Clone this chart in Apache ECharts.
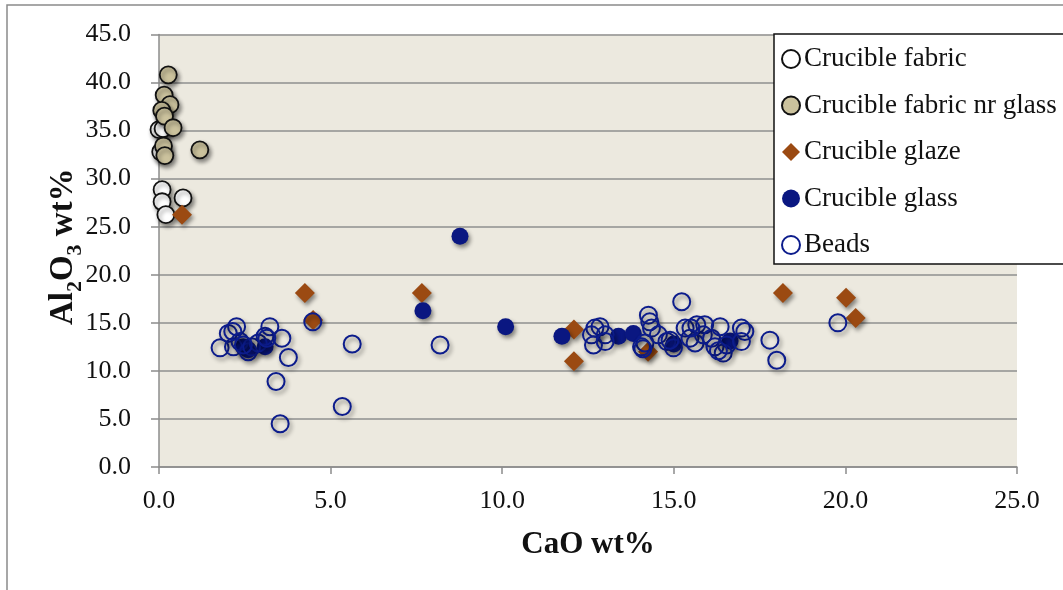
<!DOCTYPE html>
<html>
<head>
<meta charset="utf-8">
<script src="https://cdn.jsdelivr.net/npm/echarts@6/dist/echarts.min.js"></script>
<style>
html,body{margin:0;padding:0;background:#fff;}
#c{width:1063px;height:590px;}
</style>
</head>
<body>
<div id="c"></div>
<script>
// ---- Data ----
const seriesNames = ['Crucible fabric', 'Crucible fabric nr glass', 'Crucible glaze', 'Crucible glass', 'Beads'];

const fabricX = [0.09, 0.70, 0.09, 0.20, 0.00, 0.12, 0.05];
const fabricY = [28.85, 28.0, 27.6, 26.25, 35.1, 35.2, 32.8];

const nrGlassX = [0.27, 0.15, 0.32, 0.08, 0.16, 0.41, 0.13, 0.17, 1.19];
const nrGlassY = [40.8, 38.7, 37.7, 37.1, 36.5, 35.3, 33.4, 32.4, 33.0];

const glazeX = [0.67, 4.25, 4.49, 7.66, 12.09, 12.09, 14.25, 18.18, 20.02, 20.30];
const glazeY = [26.25, 18.1, 15.3, 18.1, 14.3, 11.0, 12.0, 18.1, 17.6, 15.5];

const glassX = [2.46, 2.60, 3.09, 7.69, 8.77, 10.10, 11.74, 13.39, 13.82, 15.00, 16.64];
const glassY = [12.5, 12.2, 12.5, 16.25, 24.0, 14.6, 13.6, 13.6, 13.9, 12.8, 13.1];

const beadsX = [1.78, 2.02, 2.26, 2.17, 2.36, 2.60, 2.70, 2.89, 3.09, 3.23, 3.58, 3.77, 3.41, 3.53, 4.48, 5.63, 5.34, 2.15, 2.46, 3.14,
  8.19,
  12.70, 12.85, 12.60, 13.00, 12.66, 13.00, 14.26, 14.30, 14.35, 14.16, 14.06, 14.55, 14.80, 14.99, 15.23, 14.89, 15.33, 15.67, 15.90,
  15.47, 15.62, 15.86, 16.10, 16.35, 16.20, 16.44, 16.54, 16.97, 17.07, 16.97, 17.80, 18.00, 19.78, 14.10, 16.30, 15.50];
const beadsY = [12.4, 13.9, 14.6, 12.5, 13.05, 12.0, 12.5, 12.9, 13.6, 14.6, 13.4, 11.4, 8.9, 4.5, 15.1, 12.8, 6.3, 14.1, 12.7, 13.4,
  12.7,
  14.45, 14.6, 13.75, 13.75, 12.7, 13.05, 15.8, 15.1, 14.45, 12.9, 12.5, 13.75, 13.05, 12.4, 17.2, 13.2, 14.45, 14.8, 14.8,
  13.4, 12.9, 13.75, 13.4, 14.6, 12.5, 11.85, 12.7, 14.45, 14.1, 13.05, 13.2, 11.1, 15.0, 12.3, 12.1, 14.45];

const xTicks = [0, 5, 10, 15, 20, 25];
const yTicks = [0, 5, 10, 15, 20, 25, 30, 35, 40, 45];

// ---- Build ----
function pts(xs, ys) { return xs.map((x, i) => [x, ys[i]]); }
const shadow = { opacity: 1, shadowColor: 'rgba(0,0,0,0.45)', shadowBlur: 4, shadowOffsetX: 2, shadowOffsetY: 3 };
const serif = '"Liberation Serif", "Times New Roman", serif';
const noShadow = { opacity: 1, shadowBlur: 0, shadowOffsetX: 0, shadowOffsetY: 0 };

const chart = echarts.init(document.getElementById('c'), null, { renderer: 'canvas' });
chart.setOption({
  animation: false,
  backgroundColor: '#ffffff',
  graphic: [{
    type: 'rect', z: -10, silent: true,
    shape: { x: 7, y: 5, width: 1200, height: 800 },
    style: { fill: 'none', stroke: '#8a8a8a', lineWidth: 1.5 }
  }],
  grid: {
    left: 159, top: 34.5, right: 46, bottom: 123,
    show: true, backgroundColor: '#ECE9DF', borderWidth: 0
  },
  legend: {
    orient: 'vertical', left: 774, top: 34,
    backgroundColor: '#ffffff', borderColor: '#111', borderWidth: 1.5,
    padding: [10, 120, 4, 7],
    itemWidth: 18, itemHeight: 18, itemGap: 16.5,
    textStyle: { fontFamily: serif, fontSize: 27, color: '#111', lineHeight: 30, padding: [0, 0, 0, -1] },
    data: [
      { name: seriesNames[0], icon: 'circle', itemStyle: Object.assign({ color: '#ffffff', borderColor: '#111', borderWidth: 2 }, noShadow) },
      { name: seriesNames[1], icon: 'circle', itemStyle: Object.assign({ color: '#CBC29D', borderColor: '#111', borderWidth: 2 }, noShadow) },
      { name: seriesNames[2], icon: 'diamond', itemStyle: Object.assign({ color: '#9B4A12' }, noShadow) },
      { name: seriesNames[3], icon: 'circle', itemStyle: Object.assign({ color: '#0A1781' }, noShadow) },
      { name: seriesNames[4], icon: 'circle', itemStyle: Object.assign({ color: '#ffffff', borderColor: '#0C1C8C', borderWidth: 2 }, noShadow) }
    ]
  },
  xAxis: {
    type: 'value', min: xTicks[0], max: xTicks[xTicks.length - 1], interval: 5,
    name: 'CaO wt%', nameLocation: 'middle', nameGap: 62, nameMoveOverlap: false,
    nameTextStyle: { fontFamily: serif, fontSize: 31, fontWeight: 'bold', color: '#111' },
    axisLine: { show: true, lineStyle: { color: '#8c8c8c', width: 1.5 } },
    axisTick: { show: true, length: 7, lineStyle: { color: '#8c8c8c', width: 1.5 } },
    axisLabel: { fontFamily: serif, fontSize: 26, color: '#111', margin: 21, formatter: v => v.toFixed(1) },
    splitLine: { show: false }
  },
  yAxis: {
    type: 'value', min: yTicks[0], max: yTicks[yTicks.length - 1], interval: 5,
    name: '{a|Al}{s|2}{a|O}{s|3}{a| wt%}', nameLocation: 'middle', nameGap: 79, nameRotate: 90, nameMoveOverlap: false,
    nameTextStyle: {
      padding: [0, 0, 0, 8],
      rich: {
        a: { fontFamily: serif, fontSize: 33, fontWeight: 'bold', color: '#111', lineHeight: 38, verticalAlign: 'bottom' },
        s: { fontFamily: serif, fontSize: 22, fontWeight: 'bold', color: '#111', lineHeight: 25, verticalAlign: 'bottom', padding: [0, 0, -6, 0] }
      }
    },
    axisLine: { show: true, lineStyle: { color: '#8c8c8c', width: 1.5 } },
    axisTick: { show: true, length: 8, lineStyle: { color: '#8c8c8c', width: 1.5 } },
    axisLabel: { fontFamily: serif, fontSize: 26, color: '#111', margin: 28, formatter: v => v.toFixed(1) },
    splitLine: { show: true, lineStyle: { color: '#8f8f8f', width: 1.5 } }
  },
  series: [
    {
      name: seriesNames[0], type: 'scatter', symbol: 'circle', symbolSize: 17, z: 2,
      itemStyle: Object.assign({ color: '#ffffff', borderColor: '#111', borderWidth: 1.8 }, shadow),
      data: pts(fabricX, fabricY)
    },
    {
      name: seriesNames[1], type: 'scatter', symbol: 'circle', symbolSize: 17, z: 3,
      itemStyle: Object.assign({ color: '#CBC29D', borderColor: '#111', borderWidth: 1.8 }, shadow),
      data: pts(nrGlassX, nrGlassY)
    },
    {
      name: seriesNames[2], type: 'scatter', symbol: 'diamond', symbolSize: 20, z: 4,
      itemStyle: Object.assign({ color: '#9B4A12' }, shadow),
      data: pts(glazeX, glazeY)
    },
    {
      name: seriesNames[3], type: 'scatter', symbol: 'circle', symbolSize: 17, z: 5,
      itemStyle: Object.assign({ color: '#0A1781' }, shadow),
      data: pts(glassX, glassY)
    },
    {
      name: seriesNames[4], type: 'scatter', symbol: 'circle', symbolSize: 17, z: 6,
      itemStyle: Object.assign({ color: 'rgba(255,255,255,0)', borderColor: '#0C1C8C', borderWidth: 2 }, shadow),
      data: pts(beadsX, beadsY)
    }
  ]
});
</script>
</body>
</html>
